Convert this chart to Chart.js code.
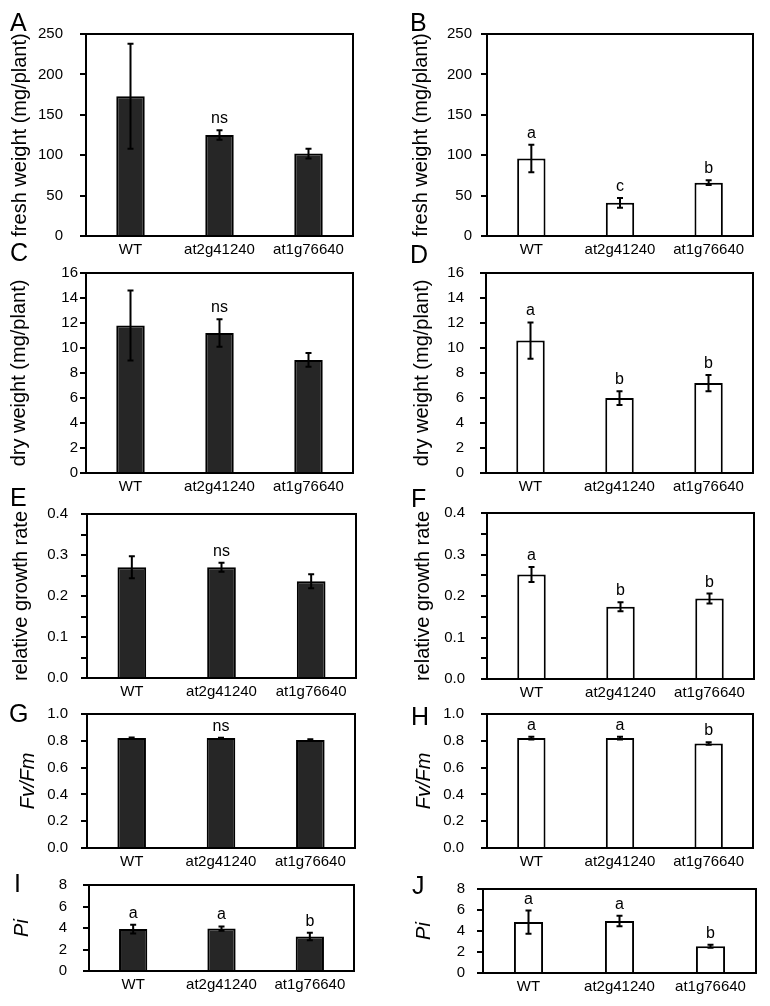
<!DOCTYPE html>
<html>
<head>
<meta charset="utf-8">
<script src="https://cdn.jsdelivr.net/npm/chart.js@4.4.1/dist/chart.umd.min.js"></script>
<style>
  body { margin: 0; background: #fff; width: 770px; height: 1006px; position: relative; overflow: hidden; }
  canvas { position: absolute; }
  .tag { position: absolute; font: 25px/1 "Liberation Sans", Arial, sans-serif; color: #000; }
</style>
</head>
<body>
<script>
/* Growth / photosynthesis comparison, 10 panels (dark vs light bars). */
const GENOTYPES = ["WT", "at2g41240", "at1g76640"];

const freshDark = [173, 125, 102];
const freshDarkErr = [65, 6, 6];
const freshLight = [96, 41, 66];
const freshLightErr = [17, 6, 3];

const dryDark = [11.8, 11.2, 9.05];
const dryDarkErr = [2.8, 1.1, 0.55];
const dryLight = [10.6, 6.0, 7.2];
const dryLightErr = [1.45, 0.55, 0.65];

const rgrDark = [0.27, 0.27, 0.236];
const rgrDarkErr = [0.027, 0.011, 0.017];
const rgrLight = [0.252, 0.174, 0.194];
const rgrLightErr = [0.018, 0.011, 0.012];

const fvfmDark = [0.82, 0.82, 0.806];
const fvfmDarkErr = [0.005, 0.003, 0.005];
const fvfmLight = [0.82, 0.82, 0.78];
const fvfmLightErr = [0.01, 0.01, 0.01];

const piDark = [3.9, 3.95, 3.2];
const piDarkErr = [0.4, 0.2, 0.35];
const piLight = [4.85, 4.95, 2.55];
const piLightErr = [1.1, 0.5, 0.15];

const marksNs = ["", "ns", ""];
const marksB = ["a", "c", "b"];
const marksD = ["a", "b", "b"];
const marksF = ["a", "b", "b"];
const marksH = ["a", "a", "b"];
const marksI = ["a", "a", "b"];
const marksJ = ["a", "a", "b"];

const DARK = "#262626";
const LIGHT = "#ffffff";
const FONT = '"Liberation Sans", Arial, sans-serif';

Chart.defaults.font.family = FONT;
Chart.defaults.color = "#000";

// box = [left, right, top, bottom] of the plot frame on the page
const PANELS = [
  { values: freshDark, errors: freshDarkErr, marks: marksNs, fill: DARK, title: "fresh weight (mg/plant)", max: 250, step: 50, box: [86, 353, 34, 236], labelRight: 63, titleX: 20 },
  { values: freshLight, errors: freshLightErr, marks: marksB, fill: LIGHT, title: "fresh weight (mg/plant)", max: 250, step: 50, box: [487, 753, 34, 236], labelRight: 472, titleX: 421 },
  { values: dryDark, errors: dryDarkErr, marks: marksNs, fill: DARK, title: "dry weight (mg/plant)", max: 16, step: 2, box: [86, 353, 273, 473], labelRight: 78, titleX: 19 },
  { values: dryLight, errors: dryLightErr, marks: marksD, fill: LIGHT, title: "dry weight (mg/plant)", max: 16, step: 2, box: [486, 753, 273, 473], labelRight: 464, titleX: 422 },
  { values: rgrDark, errors: rgrDarkErr, marks: marksNs, fill: DARK, title: "relative growth rate", max: 0.4, step: 0.05, minor: true, box: [87, 356, 514, 678], labelRight: 68, titleX: 21 },
  { values: rgrLight, errors: rgrLightErr, marks: marksF, fill: LIGHT, title: "relative growth rate", max: 0.4, step: 0.05, minor: true, box: [487, 754, 513, 679], labelRight: 465, titleX: 423 },
  { values: fvfmDark, errors: fvfmDarkErr, marks: marksNs, fill: DARK, title: "Fv/Fm", italic: true, max: 1.0, step: 0.2, box: [87, 355, 714, 848], labelRight: 68, titleX: 28 },
  { values: fvfmLight, errors: fvfmLightErr, marks: marksH, fill: LIGHT, title: "Fv/Fm", italic: true, max: 1.0, step: 0.2, box: [487, 753, 714, 848], labelRight: 464, titleX: 424 },
  { values: piDark, errors: piDarkErr, marks: marksI, fill: DARK, title: "Pi", italic: true, max: 8, step: 2, box: [89, 354, 885, 971], labelRight: 67, titleX: 22 },
  { values: piLight, errors: piLightErr, marks: marksJ, fill: LIGHT, title: "Pi", italic: true, max: 8, step: 2, box: [483, 756, 889, 973], labelRight: 465, titleX: 424 },
];

const TAGS = [
  ["A", 10, 10], ["B", 410, 10], ["C", 10, 240], ["D", 410, 242],
  ["E", 10, 485], ["F", 411, 486], ["G", 9, 701], ["H", 411, 704],
  ["I", 14, 871], ["J", 412, 873],
];

const frameBox = {
  id: "frameBox",
  afterDatasetsDraw(chart) {
    const { ctx, chartArea: a } = chart;
    ctx.save();
    ctx.strokeStyle = "#000";
    ctx.lineWidth = 2;
    ctx.strokeRect(a.left, a.top, a.right - a.left, a.bottom - a.top);
    ctx.restore();
  },
};

const errorBars = {
  id: "errorBars",
  afterDatasetsDraw(chart, args, opts) {
    const { ctx } = chart;
    const y = chart.scales.y;
    const values = chart.data.datasets[0].data;
    ctx.save();
    ctx.strokeStyle = "#000";
    ctx.fillStyle = "#000";
    ctx.lineWidth = 2;
    ctx.font = `16px ${FONT}`;
    ctx.textAlign = "center";
    ctx.textBaseline = "alphabetic";
    chart.getDatasetMeta(0).data.forEach((bar, i) => {
      const hi = y.getPixelForValue(values[i] + opts.errors[i]);
      const lo = y.getPixelForValue(values[i] - opts.errors[i]);
      ctx.beginPath();
      ctx.moveTo(bar.x, hi); ctx.lineTo(bar.x, lo);
      ctx.moveTo(bar.x - 3, hi); ctx.lineTo(bar.x + 3, hi);
      ctx.moveTo(bar.x - 3, lo); ctx.lineTo(bar.x + 3, lo);
      ctx.stroke();
      if (opts.marks[i]) ctx.fillText(opts.marks[i], bar.x, hi - 7);
    });
    ctx.restore();
  },
};

function tickLabel(p) {
  return (v) => {
    if (p.minor && Math.abs(v * 10 - Math.round(v * 10)) > 1e-6) return "";
    return p.step < 1 ? Number(v).toFixed(1) : String(Math.round(v));
  };
}

// keep the plot frame where layout.padding puts it
function dropScalePadding(s) {
  s.paddingTop = 0;
  s.paddingBottom = 0;
  s.paddingLeft = 0;
  s.paddingRight = 0;
}

function buildPanel(p) {
  const [L, R, T, B] = p.box;
  const colLeft = L < 385 ? 0 : 385;
  const top = T - 14;
  const w = R + 16 - colLeft;
  const h = B + 28 - top;

  const canvas = document.createElement("canvas");
  canvas.width = w;
  canvas.height = h;
  canvas.style.left = colLeft + "px";
  canvas.style.top = top + "px";
  canvas.style.width = w + "px";
  canvas.style.height = h + "px";
  document.body.appendChild(canvas);

  new Chart(canvas, {
    type: "bar",
    data: {
      labels: GENOTYPES,
      datasets: [{
        data: p.values,
        backgroundColor: p.fill,
        borderColor: "#000",
        borderWidth: 2,
        barPercentage: 0.32,
        categoryPercentage: 1,
      }],
    },
    options: {
      responsive: false,
      animation: false,
      devicePixelRatio: 1,
      layout: { padding: { top: 14, right: 16, left: 0, bottom: 0 } },
      plugins: {
        legend: { display: false },
        tooltip: { enabled: false },
        errorBars: { errors: p.errors, marks: p.marks },
      },
      scales: {
        x: {
          grid: { display: false, drawTicks: false },
          border: { display: false },
          ticks: { font: { size: 15 }, color: "#000", padding: 5, maxRotation: 0, autoSkip: false },
          afterFit(s) { s.height = 28; dropScalePadding(s); },
        },
        y: {
          min: 0,
          max: p.max,
          ticks: {
            stepSize: p.step,
            autoSkip: false,
            font: { size: 15 },
            color: "#000",
            padding: L - 6 - p.labelRight,
            callback: tickLabel(p),
          },
          grid: { drawOnChartArea: false, drawTicks: true, tickLength: 6, color: "#000", lineWidth: 2 },
          border: { display: false },
          title: {
            display: true,
            text: p.title,
            color: "#000",
            font: { size: 20, style: p.italic ? "italic" : "normal" },
            padding: { top: p.titleX - colLeft - 12, bottom: 0 },
          },
          afterFit(s) { s.width = L - colLeft; dropScalePadding(s); },
        },
      },
    },
    plugins: [frameBox, errorBars],
  });
}

PANELS.forEach(buildPanel);

TAGS.forEach(([text, x, y]) => {
  const el = document.createElement("div");
  el.className = "tag";
  el.textContent = text;
  el.style.left = x + "px";
  el.style.top = y + "px";
  document.body.appendChild(el);
});
</script>
</body>
</html>
